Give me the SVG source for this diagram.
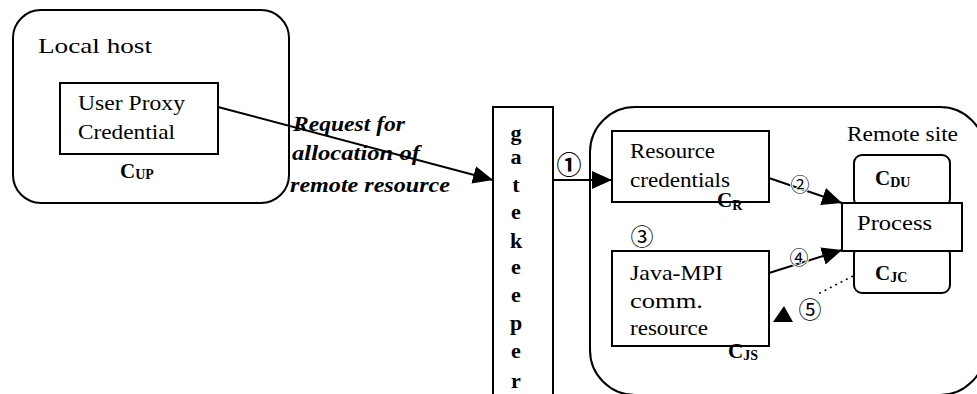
<svg xmlns="http://www.w3.org/2000/svg" width="977" height="394" viewBox="0 0 977 394">
  <style>
    .frame { fill: none; stroke: #000; stroke-width: 2; }
    .box { fill: #fff; stroke: #000; stroke-width: 2; }
    .t { font-family: "Liberation Serif", "Times New Roman", "DejaVu Serif", serif; font-size: 21px; fill: #000; }
    .lbl { font-family: "Liberation Serif", "Times New Roman", "DejaVu Serif", serif; font-weight: bold; fill: #000; }
    .req { font-family: "Liberation Serif", "Times New Roman", "DejaVu Serif", serif; font-size: 20px; font-weight: bold; font-style: italic; fill: #000; }
    .gk { font-family: "Liberation Serif", "Times New Roman", "DejaVu Serif", serif; font-size: 22px; font-weight: bold; fill: #000; text-anchor: middle; }
    .num { font-family: "Noto Sans CJK SC", "DejaVu Sans", sans-serif; fill: #000; text-anchor: middle; dominant-baseline: central; }
    .line { fill: none; stroke: #000; stroke-width: 2; }
    .dot { fill: none; stroke: #000; stroke-width: 1.5; stroke-dasharray: 2 4; }
  </style>
  <defs>
    <marker id="head" markerUnits="userSpaceOnUse" markerWidth="22" markerHeight="20" refX="20" refY="10" orient="auto">
      <path d="M0,1 L20,10 L0,19 Z" fill="#000"/>
    </marker>
  </defs>

  <rect width="977" height="394" fill="#fff"/>

  <!-- Local host -->
  <g id="local-host">
    <rect class="frame" x="13" y="10" width="276" height="193" rx="28"/>
    <text class="t" x="38" y="53" textLength="114" lengthAdjust="spacingAndGlyphs">Local host</text>
  </g>

  <!-- User proxy credential -->
  <g id="user-proxy">
    <rect class="box" x="60" y="83" width="158" height="71"/>
    <text class="t" x="78" y="110" textLength="107" lengthAdjust="spacingAndGlyphs">User Proxy</text>
    <text class="t" x="78" y="139" textLength="97" lengthAdjust="spacingAndGlyphs">Credential</text>
    <text class="lbl" x="120" y="178" font-size="21">C<tspan font-size="14" dy="1">UP</tspan></text>
  </g>

  <!-- Gatekeeper -->
  <g id="gatekeeper">
    <rect class="box" x="493" y="107" width="60" height="300"/>
    <text class="gk" x="516" y="140">g</text>
    <text class="gk" x="516" y="164">a</text>
    <text class="gk" x="516" y="192">t</text>
    <text class="gk" x="516" y="219">e</text>
    <text class="gk" x="516" y="248">k</text>
    <text class="gk" x="516" y="274">e</text>
    <text class="gk" x="516" y="302">e</text>
    <text class="gk" x="516" y="330">p</text>
    <text class="gk" x="516" y="358">e</text>
    <text class="gk" x="516" y="388">r</text>
  </g>

  <!-- Remote site -->
  <g id="remote-site">
    <rect class="frame" x="590" y="107" width="395" height="288" rx="45"/>
    <text class="t" x="847" y="141" textLength="111" lengthAdjust="spacingAndGlyphs">Remote site</text>
  </g>

  <g id="resource-credentials">
    <rect class="box" x="612" y="131" width="157" height="71"/>
    <text class="t" x="630" y="158" textLength="85" lengthAdjust="spacingAndGlyphs">Resource</text>
    <text class="t" x="630" y="187" textLength="100" lengthAdjust="spacingAndGlyphs">credentials</text>
    <text class="lbl" x="717" y="207" font-size="21">C<tspan font-size="14" dy="3">R</tspan></text>
  </g>

  <g id="java-mpi">
    <rect class="box" x="612" y="251" width="157" height="95"/>
    <text class="t" x="630" y="280" textLength="93" lengthAdjust="spacingAndGlyphs">Java-MPI</text>
    <text class="t" x="630" y="308" textLength="73" lengthAdjust="spacingAndGlyphs">comm.</text>
    <text class="t" x="630" y="335" textLength="78" lengthAdjust="spacingAndGlyphs">resource</text>
    <text class="lbl" x="728" y="358" font-size="21">C<tspan font-size="14" dy="2">JS</tspan></text>
  </g>

  <g id="c-du">
    <rect class="box" x="854" y="155" width="96" height="52" rx="8"/>
    <text class="lbl" x="875" y="185" font-size="21">C<tspan font-size="14" dy="2">DU</tspan></text>
  </g>

  <g id="c-jc">
    <rect class="box" x="854" y="246" width="96" height="47" rx="8"/>
    <text class="lbl" x="875" y="280" font-size="21">C<tspan font-size="14" dy="2">JC</tspan></text>
  </g>

  <g id="process">
    <rect class="box" x="842" y="203" width="120" height="48"/>
    <text class="t" x="857" y="230" textLength="75" lengthAdjust="spacingAndGlyphs">Process</text>
  </g>

  <!-- Connectors -->
  <g id="connectors">
    <path class="line" d="M218,107 L493,180" marker-end="url(#head)"/>
    <path class="line" d="M553,180 L612,180" marker-end="url(#head)"/>
    <path class="line" d="M769,178 L842,203" marker-end="url(#head)"/>
    <path class="line" d="M769,273 L842,250" marker-end="url(#head)"/>
    <path class="dot" d="M853,276 L818,294"/>
    <polygon points="773,322 793,322 784,306" fill="#000"/>

    <text class="req" x="293" y="131" textLength="112" lengthAdjust="spacingAndGlyphs">Request for</text>
    <text class="req" x="292" y="160" textLength="128" lengthAdjust="spacingAndGlyphs">allocation of</text>
    <text class="req" x="290" y="192" textLength="160" lengthAdjust="spacingAndGlyphs">remote resource</text>

    <text class="num" x="569" y="163" font-size="25" font-weight="bold">①</text>
    <text class="num" x="800" y="183" font-size="19" style="paint-order:stroke" stroke="#fff" stroke-width="2">②</text>
    <text class="num" x="642" y="235" font-size="23">③</text>
    <text class="num" x="799" y="256" font-size="19" style="paint-order:stroke" stroke="#fff" stroke-width="2">④</text>
    <text class="num" x="810" y="308" font-size="23">⑤</text>
  </g>
</svg>
